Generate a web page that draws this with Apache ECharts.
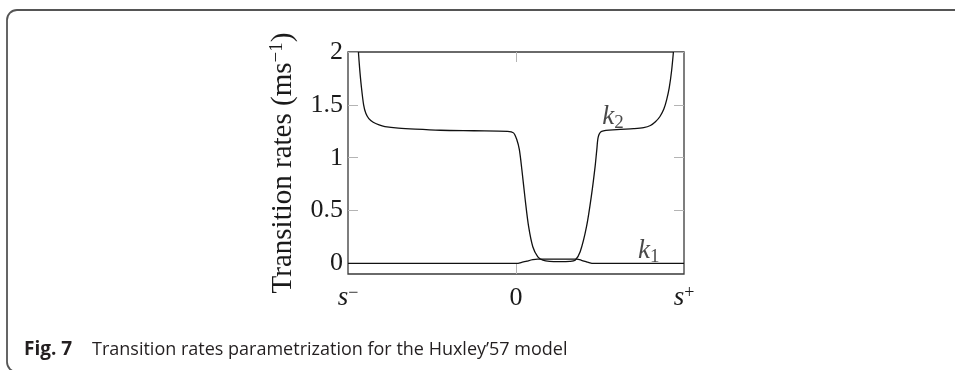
<!DOCTYPE html>
<html>
<head>
<meta charset="utf-8">
<script src="https://cdn.jsdelivr.net/npm/echarts@6/dist/echarts.min.js"></script>
<style>
  html, body { margin: 0; padding: 0; background: #fff; }
  #chart { width: 955px; height: 370px; }
</style>
</head>
<body>
<div id="chart"></div>
<script>
// Position along the attachment range, from s- (-1) through 0 to s+ (1)
const k2X = [-0.938, -0.931, -0.921, -0.907, -0.894, -0.876, -0.85, -0.815, -0.78, -0.70, -0.60, -0.45, -0.25,
  -0.05, -0.015, 0.005, 0.02, 0.035, 0.055, 0.075, 0.10, 0.13, 0.16, 0.20, 0.26, 0.32, 0.352, 0.382, 0.42,
  0.451, 0.471, 0.481, 0.49, 0.51, 0.60, 0.70, 0.76, 0.80, 0.83, 0.857, 0.88, 0.897, 0.912, 0.926, 0.937];
// Detachment rate k2 (ms^-1)
const k2Y = [2.00, 1.85, 1.68, 1.50, 1.42, 1.37, 1.335, 1.31, 1.295, 1.28, 1.27, 1.26, 1.255,
  1.25, 1.235, 1.17, 1.076, 0.886, 0.60, 0.35, 0.158, 0.063, 0.031, 0.02, 0.018, 0.02, 0.031, 0.11, 0.35,
  0.665, 0.918, 1.076, 1.20, 1.25, 1.266, 1.275, 1.285, 1.305, 1.34, 1.39, 1.46, 1.55, 1.66, 1.82, 2.00];

const k1X = [-1, -0.5, 0, 0.005, 0.03, 0.065, 0.10, 0.128, 0.2, 0.3, 0.362, 0.39, 0.42, 0.44, 0.46, 0.6, 1];
// Attachment rate k1 (ms^-1)
const k1Y = [0, 0, 0, 0, 0.008, 0.022, 0.035, 0.04, 0.04, 0.04, 0.04, 0.03, 0.015, 0.005, 0, 0, 0];

const yTicks = [0, 0.5, 1, 1.5, 2];
const xTickLabels = { '-1': '{it|s}{sup|−}', '0': '{rm|0}', '1': '{it|s}{sup|+}' };
const curveNames = ['k2', 'k1'];
const curveLabelPos = [[0.578, 1.39], [0.79, 0.12]];
const captionHead = 'Fig. 7';
const captionText = 'Transition rates parametrization for the Huxley\u201957 model';

const serif = '"Liberation Serif", "DejaVu Serif", serif';
const ink = '#1a1a1a';
const zip = (xs, ys) => xs.map((x, i) => [x, ys[i]]);

const tickStyle = { show: true, inside: true, length: 10, lineStyle: { color: '#b4b4b4', width: 1 } };
const hiddenLine = { show: false, onZero: false };

const chart = echarts.init(document.getElementById('chart'), null, { renderer: 'canvas' });
chart.setOption({
  backgroundColor: '#fff',
  animation: false,
  grid: {
    left: 348, right: 271, top: 52, bottom: 96,
    show: true, borderColor: '#3a3a3a', borderWidth: 1.3, backgroundColor: 'transparent'
  },
  xAxis: [{
    type: 'value', min: -1, max: 1, interval: 1, position: 'bottom',
    axisLine: hiddenLine,
    splitLine: { show: false },
    axisTick: Object.assign({}, tickStyle, { customValues: [0] }),
    axisLabel: {
      margin: 10,
      formatter: v => xTickLabels[String(v)] || '',
      rich: {
        it: { fontFamily: serif, fontStyle: 'italic', fontSize: 27, color: ink, lineHeight: 28 },
        sup: { fontFamily: serif, fontSize: 18, color: ink, verticalAlign: 'top', lineHeight: 28 },
        rm: { fontFamily: serif, fontSize: 26, color: ink, lineHeight: 28 }
      }
    }
  }, {
    type: 'value', min: -1, max: 1, interval: 1, position: 'top',
    axisLine: hiddenLine, splitLine: { show: false },
    axisTick: Object.assign({}, tickStyle, { customValues: [0] }),
    axisLabel: { show: false }
  }],
  yAxis: [{
    type: 'value', min: -0.1, max: 2, position: 'left',
    axisLine: hiddenLine,
    splitLine: { show: false },
    axisTick: Object.assign({}, tickStyle, { customValues: yTicks }),
    axisLabel: {
      customValues: yTicks, margin: 5,
      fontFamily: serif, fontSize: 26, color: ink,
      formatter: v => String(v)
    },
    name: '{r|Transition rates (ms}{sup|−1}{r|)}',
    nameLocation: 'middle', nameRotate: 90, nameGap: 50,
    nameTextStyle: {
      rich: {
        r: { fontFamily: serif, fontSize: 29, color: ink, lineHeight: 30 },
        sup: { fontFamily: serif, fontSize: 19, color: ink, verticalAlign: 'top', lineHeight: 30 }
      }
    }
  }, {
    type: 'value', min: -0.1, max: 2, position: 'right',
    axisLine: hiddenLine, splitLine: { show: false },
    axisTick: Object.assign({}, tickStyle, { customValues: yTicks }),
    axisLabel: { show: false }
  }],
  series: [{
    name: 'k2', type: 'line', data: zip(k2X, k2Y),
    showSymbol: false, smooth: 0.3, clip: true,
    lineStyle: { color: '#111', width: 1.3 }
  }, {
    name: 'k1', type: 'line', data: zip(k1X, k1Y),
    showSymbol: false, smooth: 0.3, clip: true,
    lineStyle: { color: '#111', width: 1.3 }
  }, {
    name: 'curve labels', type: 'scatter', symbolSize: 0, silent: true,
    data: curveLabelPos.map((p, i) => ({ value: p, name: curveNames[i] })),
    label: {
      show: true, position: 'inside',
      formatter: p => '{k|k}{sub|' + p.name.slice(1) + '}',
      rich: {
        k: { fontFamily: serif, fontStyle: 'italic', fontSize: 27, color: ink, lineHeight: 32 },
        sub: { fontFamily: serif, fontSize: 19, color: ink, verticalAlign: 'bottom', lineHeight: 32 }
      }
    }
  }],
  graphic: [{
    type: 'rect', silent: true,
    shape: { x: 7, y: 10, width: 1200, height: 362, r: 10 },
    style: { fill: 'none', stroke: '#555', lineWidth: 1.8 }
  }, {
    type: 'text', left: 24, top: 340, silent: true,
    style: { text: captionHead, font: 'bold 19px "Open Sans", "Noto Sans", sans-serif', fill: '#231f20' }
  }, {
    type: 'text', left: 92, top: 341, silent: true,
    style: { text: captionText, font: '18px "Open Sans", "Noto Sans", sans-serif', fill: '#231f20' }
  }]
});
</script>
</body>
</html>
